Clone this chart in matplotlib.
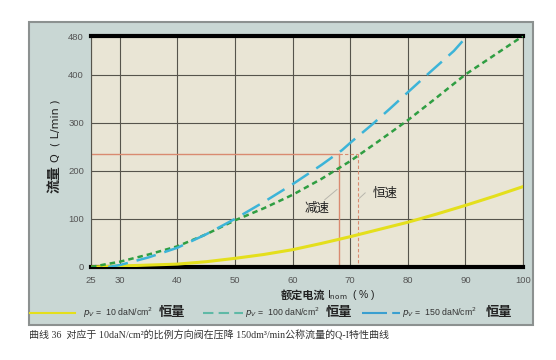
import matplotlib
matplotlib.use('Agg')
import matplotlib.pyplot as plt
from matplotlib.patches import Rectangle
from matplotlib.lines import Line2D

# readings from the chart (rated current %, flow L/min)
x_ticks = [25, 30, 40, 50, 60, 70, 80, 90, 100]
y_ticks = [0, 100, 200, 300, 400, 480]

p10_x = [25, 30, 40, 45, 50, 55, 60, 65, 70, 75, 80, 85, 90, 95, 100]
p10_q = [0, 2, 6, 11, 18, 26, 36, 49, 63, 78, 93, 110, 128, 147, 167]

p100_x = [25, 30, 35, 40, 45, 50, 55, 60, 65, 70, 75, 80, 85, 90, 95, 100]
p100_q = [0, 11, 26, 43, 68, 97, 122, 150, 183, 220, 262, 305, 352, 400, 440, 480]

p150_x = [28, 30, 35, 40, 45, 50, 55, 60, 65, 68.6, 70.3, 73.8, 76.9, 80, 83.5, 85, 88, 90.3]
p150_q = [0, 4, 20, 40, 68, 100, 135, 172, 212, 243, 261, 296, 329, 363, 401, 417, 449, 480]

red_level = 235
x_decel = 68
x_const = 71.3

legend_labels = [r'$p_V$ =  10 daN/cm$^2$', r'$p_V$ =  100 daN/cm$^2$', r'$p_V$ =  150 daN/cm$^2$']
caption = '曲线 36  对应于 10daN/cm²的比例方向阀在压降 150dm³/min公称流量的Q-I特性曲线'

W, H = 556, 360


def fx(px):
    return px / W


def fy(py):
    return 1 - py / H


plt.rcParams['font.family'] = ['Liberation Sans', 'Noto Sans CJK SC']
plt.rcParams['mathtext.fontset'] = 'dejavusans'

fig = plt.figure(figsize=(5.56, 3.6), dpi=100)
fig.patch.set_facecolor('white')

# grey-blue board behind the chart
panel = Rectangle((fx(29), fy(325)), fx(533) - fx(29), fy(22) - fy(325),
                  transform=fig.transFigure, facecolor='#c9d7d4',
                  edgecolor='#8c9190', lw=1.5, zorder=-5)
fig.patches.append(panel)

ax = fig.add_axes([fx(91), fy(267), fx(523) - fx(91), fy(36) - fy(267)])
ax.set_facecolor('#e9e5d5')
ax.set_xlim(25, 100)
ax.set_ylim(0, 480)
ax.set_xticks(x_ticks)
ax.set_yticks(y_ticks)
ax.grid(True, color='#56544c', lw=0.8)
ax.set_axisbelow(True)
ax.tick_params(length=0, labelsize=6.8, labelcolor='#555555')
ax.tick_params(axis='x', pad=6.5)
ax.tick_params(axis='y', pad=5)
for side in ['top', 'bottom']:
    ax.spines[side].set_linewidth(3)
    ax.spines[side].set_color('black')
for side in ['left', 'right']:
    ax.spines[side].set_linewidth(0.8)
    ax.spines[side].set_color('#56544c')

# curves
ax.plot(p10_x, p10_q, color='#e4df1c', lw=2.2, zorder=3)
ax.plot(p100_x, p100_q, color='#2f9e42', lw=1.8, dashes=(2.2, 1.6), zorder=3)
ax.plot(p150_x, p150_q, color='#3cb4d8', lw=1.8, dashes=(8, 3.6), zorder=4)

# operating point lines
ax.plot([25, x_decel], [red_level, red_level], color='#d98a70', lw=1.0, zorder=2)
ax.plot([x_decel, x_decel], [red_level, 0], color='#d98a70', lw=1.0, zorder=2)
ax.plot([x_decel, x_const], [red_level, red_level], color='#d98a70', lw=0.8,
        ls=(0, (3, 2)), zorder=2)
ax.plot([x_const, x_const], [red_level, 0], color='#d98a70', lw=0.8,
        ls=(0, (3, 2)), zorder=2)

ax.plot([65.6, 67.7], [140, 161], color='#b8b6ad', lw=0.7, zorder=2)
ax.plot([71.6, 72.6], [143, 154], color='#b8b6ad', lw=0.7, zorder=2)
ax.text(64.2, 121, '减速', fontsize=9, ha='center', va='center', color='#1e1e1e',
        family=['Noto Sans CJK SC'])
ax.text(76.1, 153, '恒速', fontsize=9, ha='center', va='center', color='#1e1e1e',
        family=['Noto Sans CJK SC'])

# axis titles
fig.text(fx(55), fy(193), '流量', rotation=90, ha='center', va='bottom',
         fontsize=10, fontweight='bold', color='#222222', family=['Noto Sans CJK SC'])
fig.text(fx(55), fy(162), 'Q  ( L/min )', rotation=90, ha='center', va='bottom',
         fontsize=8, color='#222222', family=['DejaVu Sans'])
fig.text(fx(325), fy(295), '额定电流', ha='right', va='center',
         fontsize=8, fontweight='bold', color='#222222', family=['Noto Sans CJK SC'])
fig.text(fx(327), fy(295), 'I$_{\\rm nom}$  ( % )', ha='left', va='center',
         fontsize=7.5, color='#222222')

# legend row
leg_y = fy(313)
fig.add_artist(Line2D([fx(30), fx(75)], [leg_y, leg_y], color='#e4df1c', lw=1.5))
fig.add_artist(Line2D([fx(203), fx(243)], [leg_y, leg_y], color='#5fb9a6', lw=1.5,
                      dashes=(5, 2.5)))
fig.add_artist(Line2D([fx(362), fx(400)], [leg_y, leg_y], color='#3a9fd0', lw=1.5,
                      dashes=(12, 2.5)))
for x_txt, x_word, label in zip([83, 245, 402], [159, 326, 486], legend_labels):
    fig.text(fx(x_txt), leg_y, label, ha='left', va='center', fontsize=6.3,
             color='#333333')
    fig.text(fx(x_word), leg_y + 0.003, '恒量', ha='left', va='center', fontsize=9.5,
             fontweight='bold', color='#222222', family=['Noto Sans CJK SC'])

fig.text(fx(29), fy(335), caption, ha='left', va='center', fontsize=7.2,
         color='#333333', family=['Liberation Serif', 'Noto Sans CJK SC'])

fig.savefig('out.png', dpi=100)
